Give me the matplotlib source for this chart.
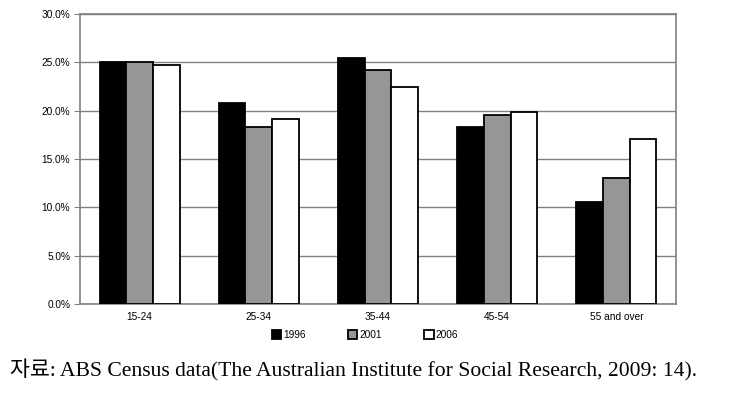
import matplotlib
matplotlib.use("Agg")
import matplotlib.pyplot as plt
import numpy as np
from matplotlib.ticker import FuncFormatter

categories = ["15-24", "25-34", "35-44", "45-54", "55 and over"]
years = ["1996", "2001", "2006"]
v1996 = [25.0, 20.8, 25.4, 18.3, 10.6]
v2001 = [25.0, 18.3, 24.2, 19.6, 13.0]
v2006 = [24.7, 19.1, 22.5, 19.9, 17.1]
yticks = [0, 5, 10, 15, 20, 25, 30]

fig = plt.figure(figsize=(7.36, 4.05), dpi=100)
ax = fig.add_axes([80/736, 1-304/405, 596/736, 290/405])

x = np.arange(len(categories))
w = 0.224
colors = ["#000000", "#969696", "#ffffff"]
series = [v1996, v2001, v2006]
handles = []
for i, (vals, c, lab) in enumerate(zip(series, colors, years)):
    b = ax.bar(x + (i-1)*w, vals, w, color=c, edgecolor="black", linewidth=1.3, label=lab, zorder=3)
    handles.append(b)

ax.set_xlim(-0.5, len(categories)-0.5)
ax.set_ylim(0, 30)
ax.set_yticks(yticks)
ax.yaxis.set_major_formatter(FuncFormatter(lambda v, p: f"{v:.1f}%"))
ax.set_xticks(x)
ax.set_xticklabels(categories)
ax.tick_params(axis="x", length=0, pad=6)
ax.tick_params(axis="y", length=4, color="#808080", pad=3)
for lab in ax.get_xticklabels() + ax.get_yticklabels():
    lab.set_fontfamily("Liberation Sans")
    lab.set_fontsize(7.3)
ax.grid(axis="y", color="#808080", linewidth=1.0, zorder=0)
for s in ax.spines.values():
    s.set_color("#808080")
    s.set_linewidth(1.2)

leg = fig.legend(handles=handles, labels=years, loc="center", bbox_to_anchor=(365/736, 1-335/405),
                 ncol=3, frameon=False, prop={"family": "Liberation Sans", "size": 7.3},
                 handlelength=0.9, handleheight=0.9, handletextpad=0.2, columnspacing=4.2)

fig.text(10/736, 1-370/405, "자료: ABS Census data(The Australian Institute for Social Research, 2009: 14).",
         family=["Liberation Serif", "Noto Sans CJK KR"], fontsize=15.6, va="center", ha="left")

fig.savefig("out.png", dpi=100)
